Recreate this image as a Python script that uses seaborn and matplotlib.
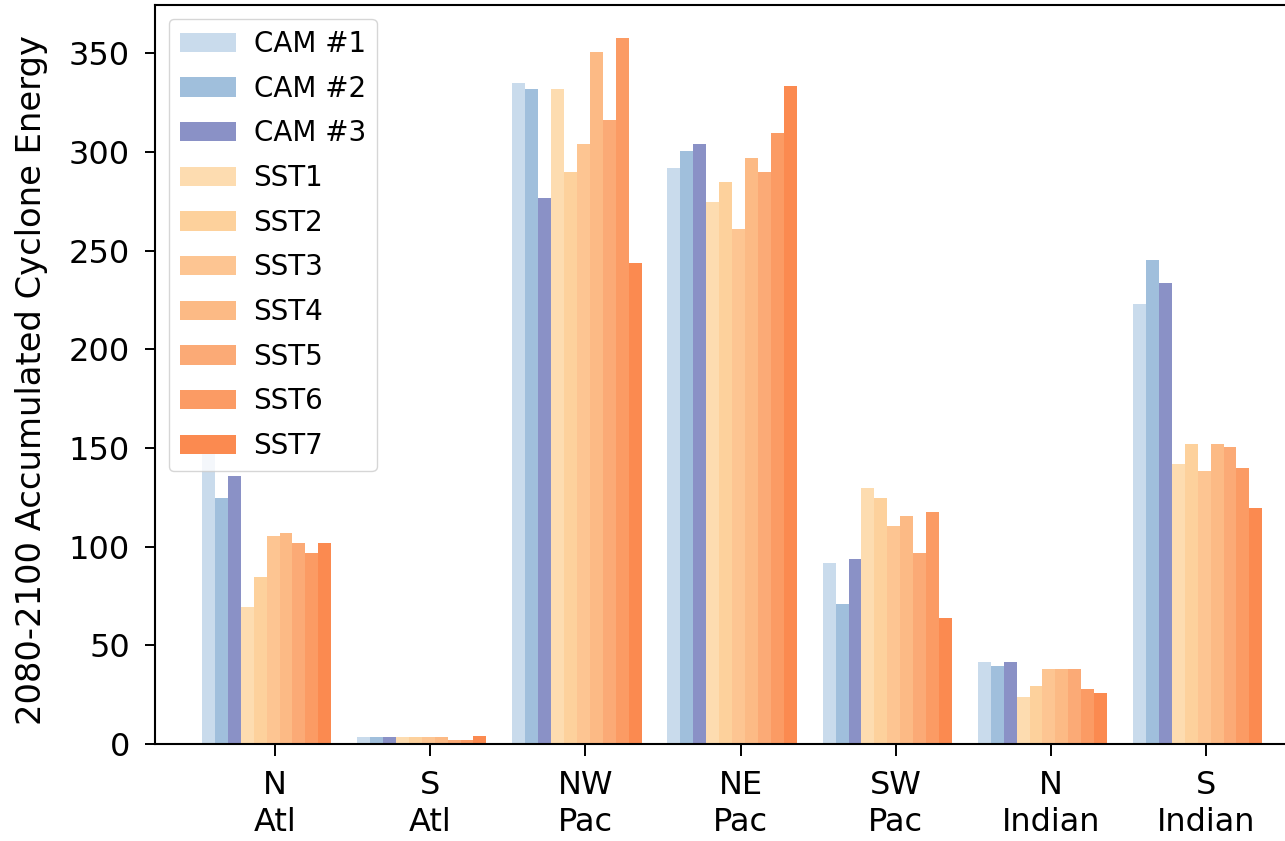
import numpy as np
import pandas as pd
import matplotlib
matplotlib.use("Agg")
import matplotlib.pyplot as plt
from matplotlib.patches import Patch
import seaborn as sns

regions = ["N\nAtl", "S\nAtl", "NW\nPac", "NE\nPac", "SW\nPac", "N\nIndian", "S\nIndian"]
series = ["CAM #1", "CAM #2", "CAM #3", "SST1", "SST2", "SST3", "SST4", "SST5", "SST6", "SST7"]

cam1 = [147, 3.5, 335, 292, 91.5, 41.7, 223]
cam2 = [124.6, 3.5, 331.6, 300.6, 70.9, 39.7, 245]
cam3 = [136, 3.5, 276.5, 304, 93.6, 41.7, 233.4]
sst1 = [69.4, 3.5, 331.6, 274.7, 129.5, 24, 141.7]
sst2 = [84.6, 3.5, 290, 284.8, 124.5, 29.4, 152]
sst3 = [105.4, 3.5, 304, 260.9, 110.4, 38, 138.4]
sst4 = [107, 3.5, 350.7, 297, 115.7, 38, 152]
sst5 = [102, 2, 316, 290, 96.9, 38, 150.3]
sst6 = [96.8, 2, 357.5, 309.4, 117.7, 27.7, 140]
sst7 = [102, 4, 243.6, 333.3, 64, 26, 119.7]

colors = ["#c9dbec", "#a0bfdc", "#8a91c6", "#fddcb0", "#fdd19c", "#fdc592",
          "#fcba85", "#fbaa76", "#fb9b64", "#fb8a50"]

values = [cam1, cam2, cam3, sst1, sst2, sst3, sst4, sst5, sst6, sst7]
df = pd.DataFrame(
    [(r, s, v[i]) for s, v in zip(series, values) for i, r in enumerate(regions)],
    columns=["region", "series", "ace"],
)

plt.rcParams["font.family"] = ["DejaVu Sans"]
fig = plt.figure(figsize=(12.85, 8.41), dpi=100)
ax = fig.add_axes([155 / 1285, 97 / 841, 1136.4 / 1285, 739 / 841])

sns.barplot(data=df, x="region", y="ace", hue="series", order=regions,
            hue_order=series, palette=colors, saturation=1, width=10 / 12,
            errorbar=None, legend=False, ax=ax, linewidth=0)

ax.set_xlim(-0.719, 6.604)
ax.set_ylim(0, 374.4)
ax.set_xticks(np.arange(len(regions)) + 0.054)
ax.set_xticklabels(regions, linespacing=1.25)
ax.set_yticks(np.arange(0, 351, 50))
ax.set_xlabel("")
ax.set_ylabel("2080-2100 Accumulated Cyclone Energy", fontsize=24.3)
ax.yaxis.set_label_coords(-0.094, 0.4926)

ax.tick_params(axis="both", labelsize=23, width=1.4)
ax.tick_params(axis="x", length=8.5, pad=10)
ax.tick_params(axis="y", length=7, pad=11)
for sp in ax.spines.values():
    sp.set_linewidth(1.5)
    sp.set_color("black")

handles = [Patch(facecolor=c, label=s) for c, s in zip(colors, series)]
ax.legend(handles=handles, loc="upper left", fontsize=20, labelspacing=0.6,
          handletextpad=0.65)

fig.savefig("out.png", dpi=100)
